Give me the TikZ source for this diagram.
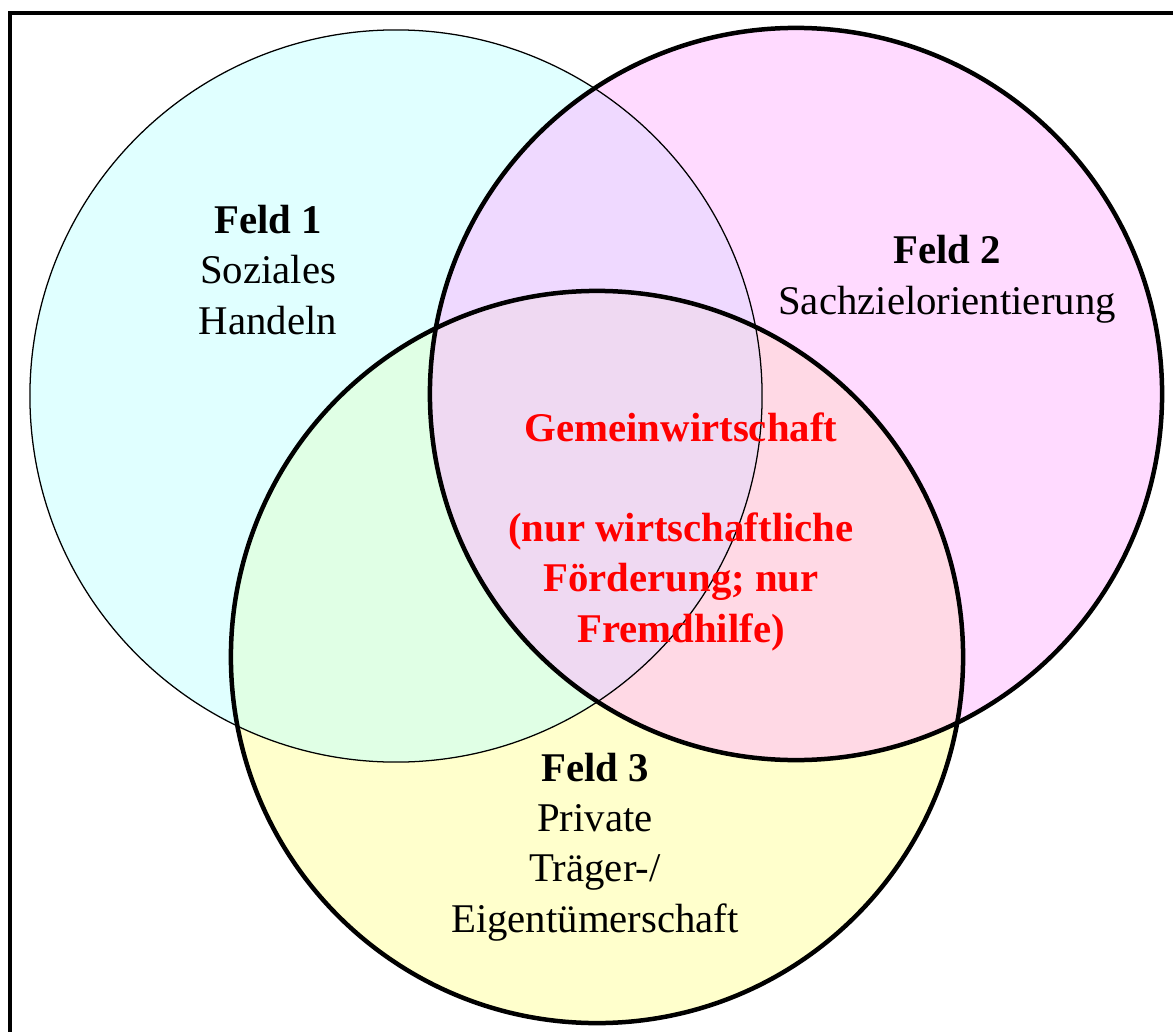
\documentclass[tikz,border=0pt]{standalone}
\usepackage{fontspec}
\setmainfont{Liberation Serif}
\usepackage{tikz}
\usetikzlibrary{positioning}
\usetikzlibrary{calc}
\definecolor{feldeins}{HTML}{C2FFFF}
\definecolor{feldzwei}{HTML}{FFB5FF}
\definecolor{felddrei}{HTML}{FFFFCC}

\begin{document}
\begin{tikzpicture}[x=0.025cm,y=-0.025cm,
  venn/.style={shape=circle,minimum size=18.3cm,inner sep=0pt},
  label text/.style={font=\fontsize{29}{35.6}\selectfont,align=center,anchor=base,inner sep=0pt}]
\useasboundingbox (0,0) rectangle (1173,1032);
\clip (0,0) rectangle (1173,1032);
\draw [line width=2.4pt] (10,13) rectangle (1200,1060);
\path
(597,657) node [venn,fill=felddrei](c) {}
(396,396) node [venn,fill=feldeins,fill opacity=0.5](a) {}
(796,394) node [venn,fill=feldzwei,fill opacity=0.5](b) {};
\draw [line width=0.9pt](a.center) circle (9.15cm);
\draw [line width=3.2pt](b.center) circle (9.15cm);
\draw [line width=3.2pt](c.center) circle (9.15cm);
\node [label text](e) at (268,334) {\textbf{Feld 1}\\Soziales\\Handeln};
\node [label text](f) at (947,314) {\textbf{Feld 2}\\Sachzielorientierung};
\node [label text,text=red,font=\fontsize{29}{35.6}\selectfont\bfseries](g) at (681,642)
  {Gemeinwirtschaft\\[35.6pt](nur wirtschaftliche\\F\"orderung; nur\\Fremdhilfe)};
\node [label text](h) at (595,932) {\textbf{Feld 3}\\Private\\Tr\"ager-/\\Eigent\"umerschaft};
\end{tikzpicture}
\end{document}
